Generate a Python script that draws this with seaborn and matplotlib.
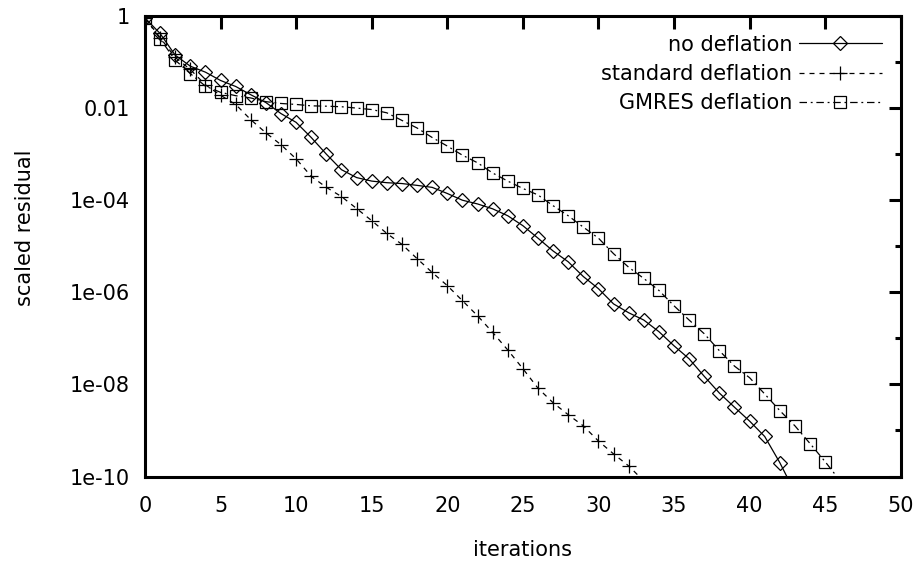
import numpy as np
import pandas as pd
import seaborn as sns
import matplotlib
matplotlib.use("Agg")
import matplotlib.pyplot as plt
from matplotlib.ticker import FixedLocator, NullFormatter

# residual histories
iters_none = list(range(0, 44))
res_none = [0.91, 0.417, 0.141, 0.0813, 0.0603, 0.0398, 0.0295, 0.0195, 0.0132, 7.6e-3,
            4.9e-3, 2.3e-3, 1.0e-3, 4.6e-4, 3.1e-4, 2.6e-4, 2.4e-4, 2.3e-4, 2.1e-4, 1.9e-4,
            1.4e-4, 1.0e-4, 8.3e-5, 6.5e-5, 4.6e-5, 2.8e-5, 1.5e-5, 7.9e-6, 4.6e-6, 2.2e-6,
            1.2e-6, 5.6e-7, 3.6e-7, 2.5e-7, 1.4e-7, 6.9e-8, 3.6e-8, 1.5e-8, 6.5e-9, 3.2e-9,
            1.6e-9, 7.4e-10, 2.0e-10, 4.5e-11]

iters_std = list(range(0, 34))
res_std = [0.91, 0.34, 0.126, 0.069, 0.032, 0.019, 0.012, 5.6e-3, 2.9e-3, 1.6e-3,
           7.9e-4, 3.3e-4, 1.9e-4, 1.2e-4, 6.6e-5, 3.6e-5, 1.9e-5, 1.1e-5, 5.4e-6, 2.7e-6,
           1.4e-6, 6.6e-7, 3.1e-7, 1.35e-7, 5.6e-8, 2.2e-8, 8.3e-9, 4.0e-9, 2.2e-9, 1.26e-9,
           5.9e-10, 3.1e-10, 1.7e-10, 8e-11]

iters_gmres = list(range(0, 47))
res_gmres = [0.91, 0.32, 0.11, 0.056, 0.030, 0.022, 0.0186, 0.0166, 0.0138, 0.0126,
             0.012, 0.0112, 0.011, 0.0107, 0.0100, 9.3e-3, 7.9e-3, 5.4e-3, 3.7e-3, 2.3e-3,
             1.5e-3, 9.5e-4, 6.5e-4, 3.9e-4, 2.6e-4, 1.8e-4, 1.3e-4, 7.6e-5, 4.6e-5, 2.6e-5,
             1.5e-5, 6.9e-6, 3.5e-6, 2.0e-6, 1.1e-6, 5.1e-7, 2.5e-7, 1.26e-7, 5.4e-8, 2.5e-8,
             1.4e-8, 6.2e-9, 2.7e-9, 1.26e-9, 5.2e-10, 2.1e-10, 8e-11]

labels = ["no deflation", "standard deflation", "GMRES deflation"]
yticks_major = [1, 1e-2, 1e-4, 1e-6, 1e-8, 1e-10]
ytick_labels = ["1", "0.01", "1e-04", "1e-06", "1e-08", "1e-10"]
yticks_minor = [1e-1, 1e-3, 1e-5, 1e-7, 1e-9]
xticks = [0, 5, 10, 15, 20, 25, 30, 35, 40, 45, 50]
ymin, ymax = 1e-10, 1

sns.set_theme(style="white")
plt.rcParams['font.family'] = ['DejaVu Sans']
plt.rcParams.update({"text.color": "black", "axes.labelcolor": "black",
                     "xtick.color": "black", "ytick.color": "black"})

fig, ax = plt.subplots(figsize=(9.21, 5.63), dpi=100)
fig.subplots_adjust(left=0.1574, right=0.978, top=0.9716, bottom=0.1536)


def visible(vals):
    # gnuplot skips points that fall below the y range, the line is just clipped
    return [i for i, v in enumerate(vals) if v >= ymin]


common = dict(color="black", linewidth=0.9, mfc="none", mec="black", mew=0.9)
sns.lineplot(x=iters_none, y=res_none, ax=ax, marker="D", markersize=7,
             linestyle="-", label=labels[0], markevery=visible(res_none), **common)
sns.lineplot(x=iters_std, y=res_std, ax=ax, marker="+", markersize=10,
             linestyle=(0, (4, 4)), label=labels[1], markevery=visible(res_std), **common)
sns.lineplot(x=iters_gmres, y=res_gmres, ax=ax, marker="s", markersize=8.5,
             linestyle=(0, (6, 3, 1.5, 3)), label=labels[2], markevery=visible(res_gmres),
             **common)

ax.set_yscale("log")
ax.set_xlim(0, 50)
ax.set_ylim(ymin, ymax)
ax.set_xticks(xticks)
ax.set_yticks(yticks_major)
ax.set_yticklabels(ytick_labels)
ax.yaxis.set_minor_locator(FixedLocator(yticks_minor))
ax.yaxis.set_minor_formatter(NullFormatter())

for sp in ax.spines.values():
    sp.set_linewidth(2.2)
    sp.set_color("black")
ax.tick_params(which="major", direction="in", length=9, width=2.2, top=True, right=True,
               labelsize=15, colors="black")
ax.tick_params(which="minor", direction="in", length=4.5, width=2.2, top=True, right=True)
ax.tick_params(axis="x", pad=14)
ax.tick_params(axis="y", pad=11)

ax.set_xlabel("iterations", fontsize=15, labelpad=17)
ax.set_ylabel("scaled residual", fontsize=15)
ax.yaxis.set_label_coords(-0.146, 0.54)

ax.legend(loc="upper right", frameon=False, markerfirst=False, fontsize=15,
          handlelength=4.0, labelspacing=0.45, borderaxespad=0.5, handletextpad=0.3,
          numpoints=1)

plt.savefig("out.png", dpi=100)
